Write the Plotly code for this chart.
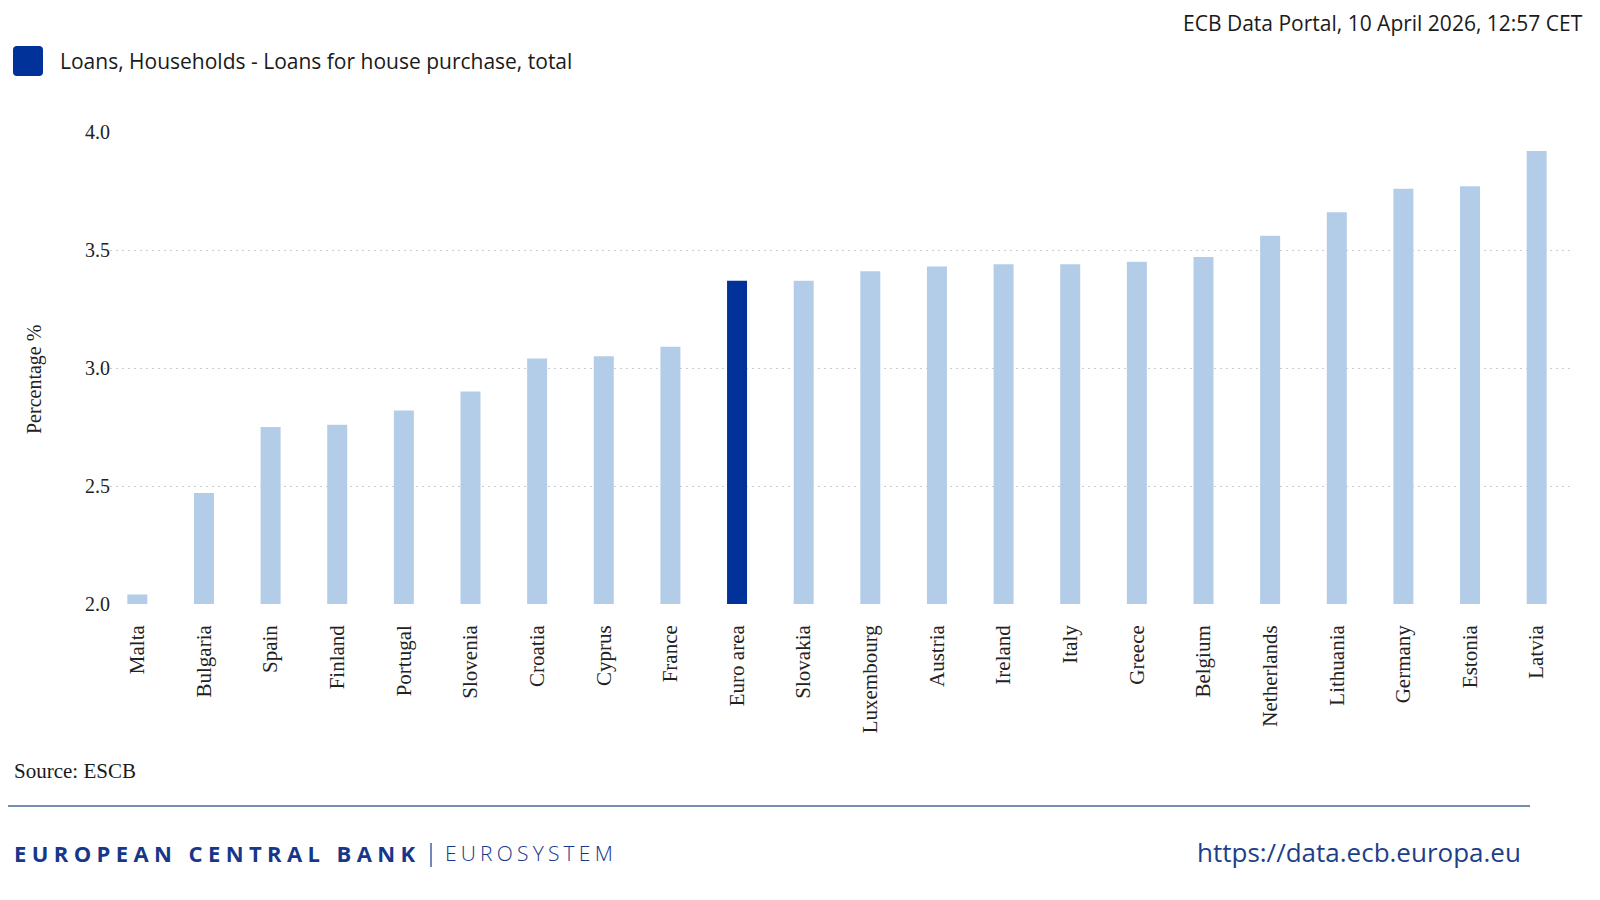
import plotly.graph_objects as go

# ---- data ----
countries = ["Malta", "Bulgaria", "Spain", "Finland", "Portugal", "Slovenia", "Croatia",
             "Cyprus", "France", "Euro area", "Slovakia", "Luxembourg", "Austria", "Ireland",
             "Italy", "Greece", "Belgium", "Netherlands", "Lithuania", "Germany", "Estonia", "Latvia"]
rates = [2.04, 2.47, 2.75, 2.76, 2.82, 2.90, 3.04, 3.05, 3.09, 3.37, 3.37, 3.41, 3.43, 3.44,
         3.44, 3.45, 3.47, 3.56, 3.66, 3.76, 3.77, 3.92]
highlight = "Euro area"
y_ticks = [2.0, 2.5, 3.0, 3.5, 4.0]
y_tick_labels = ["2.0", "2.5", "3.0", "3.5", "4.0"]
series_name = "Loans, Households - Loans for house purchase, total"
y_title = "Percentage %"
stamp = "ECB Data Portal, 10 April 2026, 12:57 CET"
source = "Source: ESCB"
url = "https://data.ecb.europa.eu"

# ---- styles ----
OFF = 8                 # page body margin
W, H = 1600 - 2 * OFF, 900 - 2 * OFF
DARK = "#003299"
LIGHT = "#b3cde8"
SERIF = "Liberation Serif"
SANS = "Open Sans"


def px(x):
    """screen x (reference pixels) -> paper fraction"""
    return (x - OFF) / W


def py(y):
    """screen y (reference pixels) -> paper fraction"""
    return 1 - (y - OFF) / H


colors = [DARK if c == highlight else LIGHT for c in countries]

fig = go.Figure(go.Bar(x=countries, y=rates, marker=dict(color=colors, line=dict(width=0)),
                       name=series_name, showlegend=False))

fig.update_layout(
    width=W, height=H, margin=dict(l=0, r=0, t=0, b=0, autoexpand=False),
    paper_bgcolor="white", plot_bgcolor="white",
    bargap=0.7,
    xaxis=dict(domain=[px(104), px(1570)], tickangle=-90, showgrid=False, showline=False,
               ticks="", tickfont=dict(family=SERIF, size=21, color="#222222"),
               ticklabelstandoff=16, automargin=False),
    yaxis=dict(domain=[py(604), py(132)], range=[2.0, 4.0], tickvals=y_ticks, ticktext=y_tick_labels,
               showgrid=True, gridcolor="#cccccc", griddash="2px,4px", gridwidth=1,
               zeroline=False, showline=False, ticks="", automargin=False,
               tickfont=dict(family=SERIF, size=20, color="#222222"),
               ticklabelstandoff=-7),
)

# legend marker (rounded square) and label
x0, x1, y0, y1, r = 13, 43, 46, 76, 4
path = (f"M {px(x0+r)},{py(y0)} L {px(x1-r)},{py(y0)} Q {px(x1)},{py(y0)} {px(x1)},{py(y0+r)} "
        f"L {px(x1)},{py(y1-r)} Q {px(x1)},{py(y1)} {px(x1-r)},{py(y1)} "
        f"L {px(x0+r)},{py(y1)} Q {px(x0)},{py(y1)} {px(x0)},{py(y1-r)} "
        f"L {px(x0)},{py(y0+r)} Q {px(x0)},{py(y0)} {px(x0+r)},{py(y0)} Z")
fig.add_shape(type="path", path=path, xref="paper", yref="paper", fillcolor=DARK, line=dict(width=0))

annots = [
    dict(text=series_name, x=px(58), y=py(61), xanchor="left", yanchor="middle",
         font=dict(family=SANS, size=21, color="#1a1a1a")),
    dict(text=stamp, x=px(1584), y=py(8), xanchor="right", yanchor="top", borderpad=0,
         font=dict(family=SANS, size=21, color="#1a1a1a")),
    dict(text=y_title, x=px(34), y=py(380), xanchor="center", yanchor="middle", textangle=-90,
         font=dict(family=SERIF, size=20, color="#222222")),
    dict(text=source, x=px(12), y=py(771), xanchor="left", yanchor="middle",
         font=dict(family=SERIF, size=21, color="#1a1a1a")),
    dict(text='<span style="letter-spacing:5.4px"><b>EUROPEAN CENTRAL BANK</b></span>',
         x=px(12), y=py(853), xanchor="left", yanchor="middle",
         font=dict(family=SANS, size=22, color="#17378a")),
    dict(text='<span style="letter-spacing:4.2px">EUROSYSTEM</span>',
         x=px(443), y=py(853), xanchor="left", yanchor="middle",
         font=dict(family=SANS, size=21, color="#17378a", weight=300)),
    dict(text=url, x=px(1523), y=py(852), xanchor="right", yanchor="middle",
         font=dict(family=SANS, size=26, color="#1d3f8a")),
]
for a in annots:
    fig.add_annotation(xref="paper", yref="paper", showarrow=False, **a)

# footer rule and separator
fig.add_shape(type="line", xref="paper", yref="paper", x0=px(8), x1=px(1530), y0=py(806), y1=py(806),
              line=dict(color="#4a6796", width=1.5))
fig.add_shape(type="line", xref="paper", yref="paper", x0=px(431), x1=px(431), y0=py(843), y1=py(867),
              line=dict(color="#17378a", width=1.2))

fig.write_html("out.html")
